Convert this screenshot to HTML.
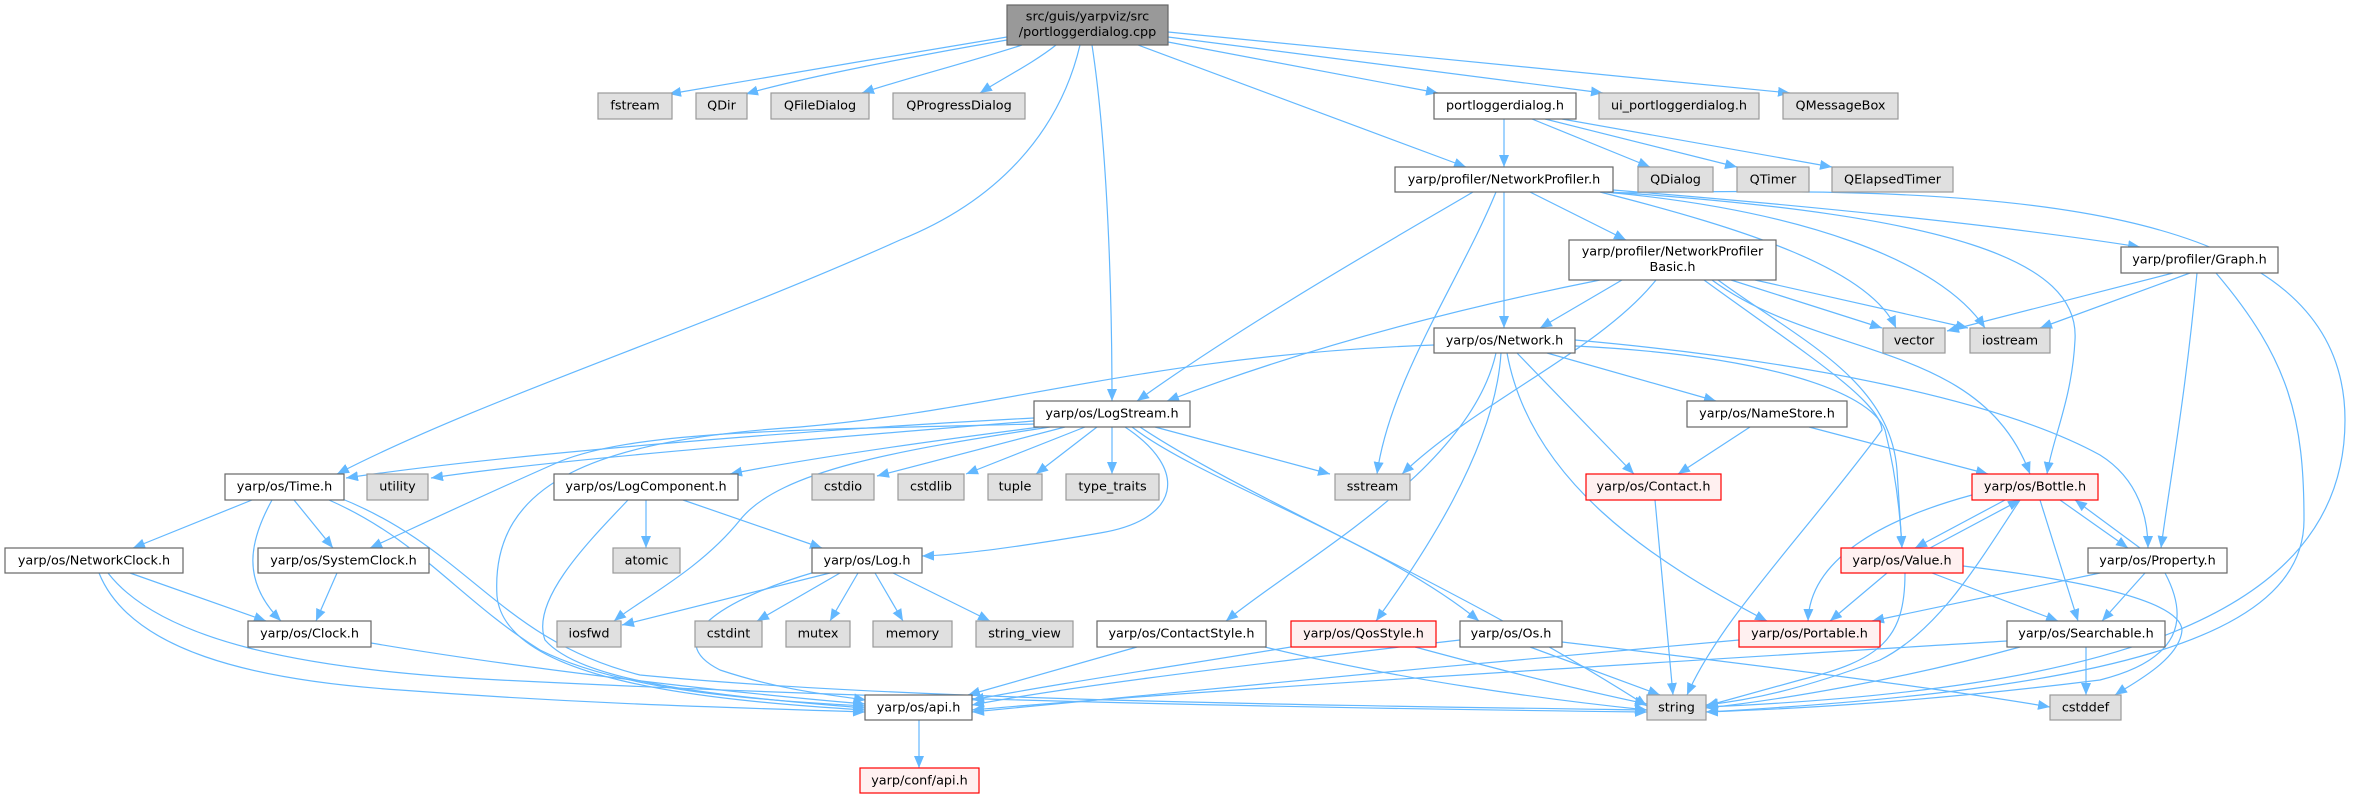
<!DOCTYPE html>
<html>
<head>
<meta charset="utf-8">
<style>
html,body{margin:0;padding:0;background:#fff;}
svg{display:block;}
text{font-family:"DejaVu Sans","Liberation Sans",sans-serif;font-size:12.8px;fill:#000;text-anchor:middle;}
.e{fill:none;stroke:#63b8ff;stroke-width:1.2;marker-end:url(#a);}
.g{fill:#e0e0e0;stroke:#999999;stroke-width:1.2;}
.w{fill:#ffffff;stroke:#666666;stroke-width:1.2;}
.r{fill:#fff0f0;stroke:#ff0000;stroke-width:1.2;}
.k{fill:#999999;stroke:#666666;stroke-width:1.2;}
</style>
</head>
<body>
<svg width="2361" height="799" viewBox="0 0 2361 799" xmlns="http://www.w3.org/2000/svg">
<defs>
<marker id="a" markerUnits="userSpaceOnUse" markerWidth="13" markerHeight="11" refX="12" refY="5" orient="auto">
<path d="M0,0 L12,5 L0,10 z" fill="#63b8ff"/>
</marker>
</defs>
<g>
<!-- root edges -->
<path class="e" d="M1007,37 C900,55 760,78 669,94"/>
<path class="e" d="M1007,40 C920,55 800,78 746,94"/>
<path class="e" d="M1022,45 C970,62 900,80 862,93"/>
<path class="e" d="M1056,45 C1035,62 1000,80 980,93"/>
<path class="e" d="M1080,45 C1060,130 1000,200 900,240 C700,330 480,400 337,474"/>
<path class="e" d="M1092,45 C1108,150 1112,300 1112,401"/>
<path class="e" d="M1138,45 L1466,167"/>
<path class="e" d="M1168,42 L1438,93"/>
<path class="e" d="M1168,37 L1603,93"/>
<path class="e" d="M1168,32 L1790,93"/>
<!-- portloggerdialog.h -->
<path class="e" d="M1504,119 L1504,167"/>
<path class="e" d="M1532,119 L1650,167"/>
<path class="e" d="M1545,119 L1737,167"/>
<path class="e" d="M1562,119 L1832,167"/>
<!-- NetworkProfiler.h -->
<path class="e" d="M1473,192 C1400,235 1250,320 1137,401"/>
<path class="e" d="M1496,192 C1460,280 1390,380 1377,474"/>
<path class="e" d="M1504,192 L1504,328"/>
<path class="e" d="M1530,192 L1626,240"/>
<path class="e" d="M1600,192 C1750,230 1870,270 1896,328"/>
<path class="e" d="M1605,192 C1800,210 1940,260 1985,328"/>
<path class="e" d="M1610,192 C1950,215 2080,260 2075,340 C2072,400 2052,440 2047,474"/>
<path class="e" d="M1613,190 C1800,205 2000,225 2140,247"/>
<path class="e" d="M1613,193 C2000,185 2345,200 2345,420 C2345,620 2100,690 1706,707"/>
<!-- Basic.h -->
<path class="e" d="M1600,280 C1450,310 1300,350 1167,401"/>
<path class="e" d="M1622,280 L1540,328"/>
<path class="e" d="M1656,280 C1600,350 1480,400 1402,474"/>
<path class="e" d="M1731,280 L1882,328"/>
<path class="e" d="M1755,280 L1968,328"/>
<path class="e" d="M1712,280 C1820,360 1980,340 2030,474"/>
<path class="e" d="M1718,280 C1800,340 1890,380 1897,470 L1902,548"/>
<path class="e" d="M1704,280 C1800,350 1880,400 1882,430 C1800,540 1720,620 1687,695"/>
<!-- Graph.h -->
<path class="e" d="M2173,273 L1947,331"/>
<path class="e" d="M2190,273 L2040,328"/>
<path class="e" d="M2197,273 C2185,400 2170,480 2161,548"/>
<path class="e" d="M2216,273 C2290,360 2304,420 2304,520 C2304,640 2100,690 1706,712"/>
<!-- NameStore.h -->
<path class="e" d="M1750,427 L1678,474"/>
<path class="e" d="M1809,427 L1988,474"/>
<!-- Network.h -->
<path class="e" d="M1547,353 L1716,401"/>
<path class="e" d="M1517,353 L1634,474"/>
<path class="e" d="M1496,353 C1470,470 1300,560 1226,621"/>
<path class="e" d="M1501,353 C1495,450 1420,560 1376,621"/>
<path class="e" d="M1507,353 C1530,480 1650,560 1767,621"/>
<path class="e" d="M1575,346 C1760,355 1870,390 1885,430 C1895,470 1900,510 1902,548"/>
<path class="e" d="M1575,340 C1800,360 2000,400 2100,455 C2140,480 2148,520 2148,548"/>
<path class="e" d="M1434,345 C1150,355 1000,410 800,427 C600,440 490,480 497,596 C505,680 700,700 865,710"/>
<!-- LogStream.h -->
<path class="e" d="M1034,418 C800,430 500,455 346,478"/>
<path class="e" d="M1034,421 C800,440 550,460 431,478"/>
<path class="e" d="M1040,427 C900,445 800,460 730,474"/>
<path class="e" d="M1034,424 C800,430 640,430 561,461 C490,492 420,525 370,548"/>
<path class="e" d="M1050,427 C900,450 780,470 740,520 C700,570 640,600 614,621"/>
<path class="e" d="M1065,427 L877,476"/>
<path class="e" d="M1085,427 L966,474"/>
<path class="e" d="M1097,427 L1036,474"/>
<path class="e" d="M1112,427 L1112,474"/>
<path class="e" d="M1155,427 L1330,474"/>
<path class="e" d="M1140,427 C1250,500 1450,580 1647,706"/>
<path class="e" d="M1132,427 C1200,480 1380,540 1479,621"/>
<path class="e" d="M1125,427 C1190,470 1180,520 1100,533 C1030,545 960,555 922,556"/>
<!-- Time.h -->
<path class="e" d="M252,500 L133,548"/>
<path class="e" d="M294,500 L333,548"/>
<path class="e" d="M272,500 C250,540 240,580 281,621"/>
<path class="e" d="M329,500 C420,540 460,600 540,650 C620,690 750,700 865,706"/>
<path class="e" d="M340,498 C470,550 500,640 640,675 C900,700 1300,705 1647,710"/>
<!-- NetworkClock.h -->
<path class="e" d="M130,573 L266,621"/>
<path class="e" d="M99,573 C130,650 250,680 400,690 C600,705 750,708 865,712"/>
<path class="e" d="M108,573 C160,640 300,670 500,680 C900,700 1300,708 1647,712"/>
<!-- SystemClock.h -->
<path class="e" d="M337,573 L316,621"/>
<!-- Clock.h -->
<path class="e" d="M371,643 C500,665 700,690 865,704"/>
<!-- LogComponent.h -->
<path class="e" d="M646,500 L646,548"/>
<path class="e" d="M683,500 L822,548"/>
<path class="e" d="M628,500 C590,540 530,600 545,640 C580,680 700,695 865,708"/>
<!-- Log.h -->
<path class="e" d="M830,573 L622,625"/>
<path class="e" d="M840,573 L757,621"/>
<path class="e" d="M858,573 L830,621"/>
<path class="e" d="M875,573 L903,621"/>
<path class="e" d="M893,573 L990,621"/>
<path class="e" d="M815,572 C720,600 660,640 720,670 C780,690 830,695 866,700"/>
<!-- ContactStyle / QosStyle / Os -->
<path class="e" d="M1137,647 L968,695"/>
<path class="e" d="M1265,647 C1400,680 1550,700 1647,710"/>
<path class="e" d="M1291,647 C1150,670 1050,685 972,700"/>
<path class="e" d="M1415,647 C1500,670 1580,690 1647,704"/>
<path class="e" d="M1460,640 C1200,670 1050,690 972,705"/>
<path class="e" d="M1530,647 L1660,695"/>
<path class="e" d="M1562,642 C1800,670 1950,690 2050,707"/>
<!-- Contact.h -->
<path class="e" d="M1655,500 L1673,695"/>
<!-- Bottle.h -->
<path class="e" d="M1972,495 C1880,520 1810,560 1808,621"/>
<path class="e" d="M2005,500 L1915,548"/>
<path class="e" d="M1930,548 L2020,500"/>
<path class="e" d="M2040,500 L2078,621"/>
<path class="e" d="M2060,500 L2128,548"/>
<path class="e" d="M2140,548 L2075,500"/>
<path class="e" d="M2020,500 C1980,560 1940,630 1880,660 C1800,690 1750,700 1706,705"/>
<!-- Value.h -->
<path class="e" d="M1887,573 L1830,621"/>
<path class="e" d="M1932,573 L2058,621"/>
<path class="e" d="M1905,573 C1905,640 1880,660 1800,680 L1706,706"/>
<path class="e" d="M1963,566 C2080,580 2180,600 2182,630 C2180,660 2130,685 2115,695"/>
<!-- Property.h -->
<path class="e" d="M2100,573 L1872,621"/>
<path class="e" d="M2145,573 L2102,621"/>
<path class="e" d="M2165,573 C2190,620 2180,660 2100,680 C1900,705 1760,710 1706,712"/>
<!-- Searchable.h -->
<path class="e" d="M2007,641 C1700,660 1200,690 972,710"/>
<path class="e" d="M2020,647 C1900,680 1780,700 1706,708"/>
<path class="e" d="M2086,647 L2086,695"/>
<!-- Portable.h -->
<path class="e" d="M1739,640 C1500,660 1100,700 972,712"/>
<!-- api.h -->
<path class="e" d="M919,720 L919,768"/>
</g>

<g>
<!-- root -->
<rect class="k" x="1007" y="5" width="161" height="40"/>
<text x="1087.5" y="20.7">src/guis/yarpviz/src</text>
<text x="1087.5" y="36">/portloggerdialog.cpp</text>

<!-- row 93 -->
<rect class="g" x="598" y="93" width="74" height="26"/><text x="635" y="109.3">fstream</text>
<rect class="g" x="696" y="93" width="51" height="26"/><text x="721.5" y="109.3">QDir</text>
<rect class="g" x="771" y="93" width="98" height="26"/><text x="820" y="109.3">QFileDialog</text>
<rect class="g" x="893" y="93" width="132" height="26"/><text x="959" y="109.3">QProgressDialog</text>
<rect class="w" x="1434" y="93" width="142" height="26"/><text x="1505" y="109.3">portloggerdialog.h</text>
<rect class="g" x="1599" y="93" width="160" height="26"/><text x="1679" y="109.3">ui_portloggerdialog.h</text>
<rect class="g" x="1783" y="93" width="115" height="26"/><text x="1840.5" y="109.3">QMessageBox</text>

<!-- row 167 -->
<rect class="w" x="1395" y="167" width="218" height="25"/><text x="1504" y="183.3">yarp/profiler/NetworkProfiler.h</text>
<rect class="g" x="1638" y="167" width="75" height="25"/><text x="1675.5" y="183.3">QDialog</text>
<rect class="g" x="1737" y="167" width="72" height="25"/><text x="1773" y="183.3">QTimer</text>
<rect class="g" x="1832" y="167" width="121" height="25"/><text x="1892.5" y="183.3">QElapsedTimer</text>

<!-- Basic / Graph -->
<rect class="w" x="1569" y="240" width="207" height="40"/>
<text x="1672.5" y="255.7">yarp/profiler/NetworkProfiler</text>
<text x="1672.5" y="271">Basic.h</text>
<rect class="w" x="2121" y="247" width="157" height="26"/><text x="2199.5" y="263.3">yarp/profiler/Graph.h</text>

<!-- row 328 -->
<rect class="w" x="1434" y="328" width="141" height="25"/><text x="1504.5" y="344.3">yarp/os/Network.h</text>
<rect class="g" x="1883" y="328" width="62" height="25"/><text x="1914" y="344.3">vector</text>
<rect class="g" x="1970" y="328" width="80" height="25"/><text x="2010" y="344.3">iostream</text>

<!-- row 401 -->
<rect class="w" x="1034" y="401" width="156" height="26"/><text x="1112" y="417.3">yarp/os/LogStream.h</text>
<rect class="w" x="1687" y="401" width="160" height="26"/><text x="1767" y="417.3">yarp/os/NameStore.h</text>

<!-- row 474 -->
<rect class="w" x="225" y="474" width="119" height="26"/><text x="284.5" y="490.3">yarp/os/Time.h</text>
<rect class="g" x="367" y="474" width="61" height="26"/><text x="397.5" y="490.3">utility</text>
<rect class="w" x="554" y="474" width="184" height="26"/><text x="646" y="490.3">yarp/os/LogComponent.h</text>
<rect class="g" x="812" y="474" width="62" height="26"/><text x="843" y="490.3">cstdio</text>
<rect class="g" x="898" y="474" width="66" height="26"/><text x="931" y="490.3">cstdlib</text>
<rect class="g" x="988" y="474" width="54" height="26"/><text x="1015" y="490.3">tuple</text>
<rect class="g" x="1066" y="474" width="93" height="26"/><text x="1112.5" y="490.3">type_traits</text>
<rect class="g" x="1335" y="474" width="75" height="26"/><text x="1372.5" y="490.3">sstream</text>
<rect class="r" x="1586" y="474" width="135" height="26"/><text x="1653.5" y="490.3">yarp/os/Contact.h</text>
<rect class="r" x="1972" y="474" width="126" height="26"/><text x="2035" y="490.3">yarp/os/Bottle.h</text>

<!-- row 548 -->
<rect class="w" x="5" y="548" width="178" height="25"/><text x="94" y="564.3">yarp/os/NetworkClock.h</text>
<rect class="w" x="258" y="548" width="171" height="25"/><text x="343.5" y="564.3">yarp/os/SystemClock.h</text>
<rect class="g" x="613" y="548" width="67" height="25"/><text x="646.5" y="564.3">atomic</text>
<rect class="w" x="812" y="548" width="110" height="25"/><text x="867" y="564.3">yarp/os/Log.h</text>
<rect class="r" x="1841" y="548" width="122" height="25"/><text x="1902" y="564.3">yarp/os/Value.h</text>
<rect class="w" x="2088" y="548" width="139" height="25"/><text x="2157.5" y="564.3">yarp/os/Property.h</text>

<!-- row 621 -->
<rect class="w" x="248" y="621" width="123" height="26"/><text x="309.5" y="637.3">yarp/os/Clock.h</text>
<rect class="g" x="557" y="621" width="64" height="26"/><text x="589" y="637.3">iosfwd</text>
<rect class="g" x="695" y="621" width="67" height="26"/><text x="728.5" y="637.3">cstdint</text>
<rect class="g" x="786" y="621" width="64" height="26"/><text x="818" y="637.3">mutex</text>
<rect class="g" x="873" y="621" width="79" height="26"/><text x="912.5" y="637.3">memory</text>
<rect class="g" x="976" y="621" width="97" height="26"/><text x="1024.5" y="637.3">string_view</text>
<rect class="w" x="1097" y="621" width="169" height="26"/><text x="1181.5" y="637.3">yarp/os/ContactStyle.h</text>
<rect class="r" x="1291" y="621" width="145" height="26"/><text x="1363.5" y="637.3">yarp/os/QosStyle.h</text>
<rect class="w" x="1460" y="621" width="102" height="26"/><text x="1511" y="637.3">yarp/os/Os.h</text>
<rect class="r" x="1739" y="621" width="141" height="26"/><text x="1809.5" y="637.3">yarp/os/Portable.h</text>
<rect class="w" x="2007" y="621" width="158" height="26"/><text x="2086" y="637.3">yarp/os/Searchable.h</text>

<!-- row 695 -->
<rect class="w" x="865" y="695" width="107" height="25"/><text x="918.5" y="711.3">yarp/os/api.h</text>
<rect class="g" x="1647" y="695" width="59" height="25"/><text x="1676.5" y="711.3">string</text>
<rect class="g" x="2050" y="695" width="71" height="25"/><text x="2085.5" y="711.3">cstddef</text>

<!-- row 768 -->
<rect class="r" x="860" y="768" width="119" height="25"/><text x="919.5" y="784.3">yarp/conf/api.h</text>
</g>
</svg>
</body>
</html>
